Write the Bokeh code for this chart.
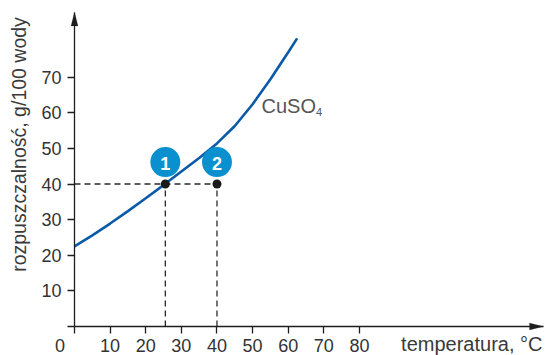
import math
from bokeh.plotting import figure
from bokeh.models import Label, FixedTicker, Range1d, PolyAnnotation
from bokeh.embed import file_html
from bokeh.resources import INLINE
from bokeh.core.properties import value

# ---- data ----
temperature = [0, 5, 10, 15, 20, 25, 30, 35, 40, 45, 50, 55, 60, 62.5]
solubility = [22.5, 25.6, 28.9, 32.4, 36.0, 39.7, 43.5, 47.3, 51.4, 56.3, 62.4, 69.4, 77.0, 80.9]
point_t = [25.5, 40]
point_s = [40, 40]
point_labels = ["1", "2"]
x_ticks = [0, 10, 20, 30, 40, 50, 60, 70, 80]
y_ticks = [0, 10, 20, 30, 40, 50, 60, 70]
series_name = "CuSO"
series_sub = "4"
x_title = "temperatura, °C"
y_title = "rozpuszczalność, g/100 wody"
origin_label = "0"

# ---- layout ----
PX_X = 3.562
PX_Y = 3.562
W, H = 546, 355
OX, OY = 74, 326          # origin inside the figure (px from left / top)
x0 = -OX / PX_X
x1 = (W - OX) / PX_X
y0 = -(H - OY) / PX_Y
y1 = OY / PX_Y
x_tip = (543 - OX) / PX_X
y_tip = (OY - 11.5) / PX_Y

FONT = "Liberation Sans"
AXIS_COL = "#1e1e1e"
TEXT_COL = "#333333"


def sx(px):
    return (px - OX) / PX_X


def sy(py):
    return (OY - py) / PX_Y


p = figure(width=W, height=H, x_range=Range1d(x0, x1), y_range=Range1d(y0, y1),
           output_backend="svg", toolbar_location=None,
           min_border=0, min_border_left=0, min_border_right=0,
           min_border_top=0, min_border_bottom=0)
p.grid.visible = False
p.outline_line_color = None
p.background_fill_color = "white"
p.border_fill_color = "white"

for ax, ticks, bnds in ((p.xaxis[0], x_ticks, (0, x_tip)), (p.yaxis[0], y_ticks, (0, y_tip))):
    ax.fixed_location = 0
    ax.bounds = bnds
    ax.ticker = FixedTicker(ticks=ticks)
    ax.major_label_overrides = {0: ""}
    ax.minor_tick_line_color = None
    ax.major_tick_in = 0
    ax.major_tick_out = 7
    ax.major_tick_line_color = AXIS_COL
    ax.major_tick_line_width = 1.3
    ax.axis_line_color = AXIS_COL
    ax.axis_line_width = 1.3
    ax.major_label_text_font = FONT
    ax.major_label_text_font_size = "18px"
    ax.major_label_text_color = TEXT_COL
p.xaxis.major_label_standoff = 5
p.yaxis.major_label_standoff = 6

# arrow heads at the ends of the axes
hw_x = 3.5 / PX_X
hl_y = 14 / PX_Y
hw_y = 3.5 / PX_Y
hl_x = 14 / PX_X
p.add_layout(PolyAnnotation(xs=[0, -hw_x, hw_x], ys=[y_tip, y_tip - hl_y, y_tip - hl_y],
                            fill_color=AXIS_COL, fill_alpha=1, line_color=AXIS_COL, line_width=0.5))
p.add_layout(PolyAnnotation(xs=[x_tip, x_tip - hl_x, x_tip - hl_x], ys=[0, hw_y, -hw_y],
                            fill_color=AXIS_COL, fill_alpha=1, line_color=AXIS_COL, line_width=0.5))

# dashed guide lines
n = len(point_t)
p.segment(x0=[0] + point_t, y0=[point_s[-1]] + [0] * n,
          x1=[max(point_t)] + point_t, y1=[point_s[-1]] + point_s,
          line_color="#2a2a2a", line_width=1.3, line_dash="6 4")

# solubility curve
p.line(temperature, solubility, line_color="#0a5aa8", line_width=2.6)

# points
p.scatter(point_t, point_s, size=9, fill_color="#1a1a1a", line_color=None)
badge_y = [s + 22 / PX_Y for s in point_s]
p.scatter(point_t, badge_y, size=30, fill_color="#0b90cf", line_color=None)
p.text(point_t, badge_y, text=point_labels, text_align="center", text_baseline="middle",
       text_color="white", text_font=value(FONT), text_font_style="bold",
       text_font_size=value("18px"), y_offset=1)

# texts (positioned by their middle line)
p.add_layout(Label(x=sx(59.5), y=sy(344.5), text=origin_label, text_align="center",
                   text_baseline="middle", text_font=FONT, text_font_size="18px",
                   text_color=TEXT_COL))
p.add_layout(Label(x=sx(542), y=sy(343), text=x_title, text_align="right",
                   text_baseline="middle", text_font=FONT, text_font_size="20px",
                   text_color="#3a3a3a"))
p.add_layout(Label(x=sx(18), y=sy(144), text=y_title, angle=math.pi / 2,
                   text_align="center", text_baseline="middle", text_font=FONT,
                   text_font_size="19.5px", text_color="#3a3a3a"))
p.add_layout(Label(x=sx(261), y=sy(105.2), text=series_name, text_align="left",
                   text_baseline="middle", text_font=FONT, text_font_size="20px",
                   text_color="#555555"))
p.add_layout(Label(x=sx(315.5), y=sy(111), text=series_sub, text_align="left",
                   text_baseline="middle", text_font=FONT, text_font_size="11px",
                   text_color="#555555"))

open("out.html", "w").write(file_html(p, INLINE))
